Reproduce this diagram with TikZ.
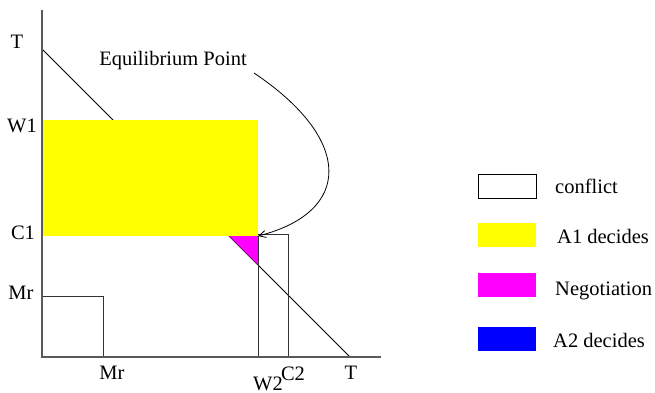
\documentclass[tikz,border=0pt]{standalone}
\usepackage{fontspec}
\setmainfont{Liberation Serif}
\usetikzlibrary{arrows.meta}
\definecolor{axisgray}{RGB}{90,90,90}
\definecolor{boxgray}{RGB}{50,50,50}
\definecolor{pyellow}{RGB}{255,255,0}
\definecolor{pmagenta}{RGB}{255,0,255}
\definecolor{pblue}{RGB}{0,0,255}
\tikzset{
  lbl/.style={inner sep=0pt, font=\fontsize{20.5}{24}\selectfont},
  axisline/.style={draw=axisgray, line width=1.3pt},
  thin/.style={draw=boxgray, line width=0.9pt},
  legbox/.style={minimum width=58pt, minimum height=24pt, inner sep=0pt, anchor=north west}
}
\begin{document}
\begin{tikzpicture}[x=1pt,y=-1pt]
\useasboundingbox (0,0) rectangle (655,393);
% coordinates
\coordinate (O) at (42,357);
\coordinate (Ytop) at (42,10);
\coordinate (Xend) at (381,357);
\coordinate (Ty) at (42,49);
\coordinate (Tx) at (350,357);
\coordinate (EQ) at (258,236);
% diagonal
\draw[black, line width=0.8pt] (Ty) -- (Tx);
% yellow region
\fill[pyellow] (43,120) rectangle (EQ);
% magenta triangle
\fill[pmagenta] (229,236) -- (EQ) -- (258,265) -- cycle;
% Mr box
\draw[thin] (42,296) -- (103,296) -- (103,357);
% W2 / C2 box
\draw[thin] (258,236) -- (258,357);
\draw[thin] (258,234) -- (288,234) -- (288,357);
% axes
\draw[axisline] (Ytop) -- (O) -- (Xend);
% labels
\node[lbl, anchor=base] (lT) at (17,49) {T};
\node[lbl, anchor=base] (lW1) at (22,132) {W1};
\node[lbl, anchor=base] (lC1) at (23,239) {C1};
\node[lbl, anchor=base] (lMr) at (21,299) {Mr};
\node[lbl, anchor=base] (bMr) at (112,379) {Mr};
\node[lbl, anchor=base] (bW2) at (268,390) {W2};
\node[lbl, anchor=base] (bC2) at (293,380) {C2};
\node[lbl, anchor=base] (bT) at (351,379) {T};
\node[lbl, anchor=base] (eq) at (173,66) {Equilibrium Point};
\coordinate (eqs) at (254,73);
\draw[black, line width=0.8pt, -{Straight Barb[length=7pt,width=7pt]}] (eqs) .. controls (354,140) and (352,212) .. (EQ);
% legend
\node[legbox, draw=black, line width=0.8pt] (k1) at (478,174) {};
\node[legbox, fill=pyellow] (k2) at (478,223) {};
\node[legbox, fill=pmagenta] (k3) at (478,273) {};
\node[legbox, fill=pblue] (k4) at (478,327) {};
\node[lbl, anchor=base west] (t1) at (555,193) {conflict};
\node[lbl, anchor=base west] (t2) at (557,243) {A1 decides};
\node[lbl, anchor=base west] (t3) at (555,295) {Negotiation};
\node[lbl, anchor=base west] (t4) at (553,347) {A2 decides};
\end{tikzpicture}
\end{document}
